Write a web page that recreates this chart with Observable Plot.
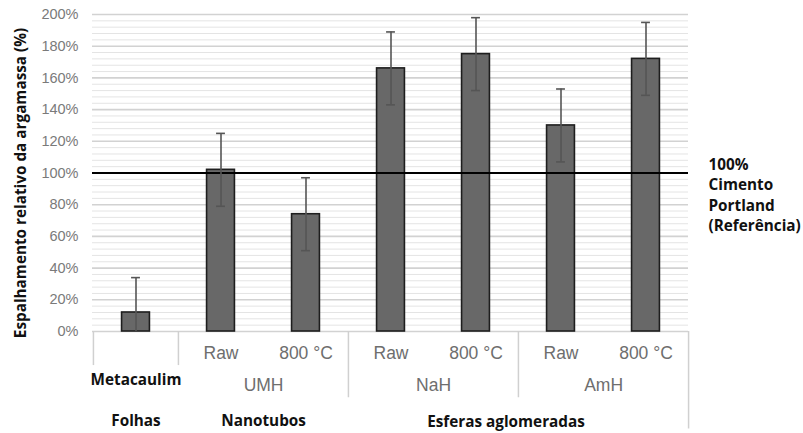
<!DOCTYPE html>
<html>
<head>
<meta charset="utf-8">
<script src="https://cdn.jsdelivr.net/npm/d3@7"></script>
<script src="https://cdn.jsdelivr.net/npm/@observablehq/plot@0.6"></script>
<style>
  html, body { margin: 0; padding: 0; background: #fff; }
  #chart svg { display: block; }
</style>
</head>
<body>
<div id="chart"></div>
<script>
// ---- data ----
const keys = ["Metacaulim", "UMH|Raw", "UMH|800 °C", "NaH|Raw", "NaH|800 °C", "AmH|Raw", "AmH|800 °C"];
const levelLabels = ["", "Raw", "800 °C", "Raw", "800 °C", "Raw", "800 °C"];
const values = [12, 102, 74, 166, 175, 130, 172];
const errors = [22, 23, 23, 23, 23, 23, 23];
const groupLabels = ["UMH", "NaH", "AmH"];
const groupFirstKey = ["UMH|Raw", "NaH|Raw", "AmH|Raw"];
const familyLabels = ["Folhas", "Nanotubos", "Esferas aglomeradas"];
const familyKey = ["Metacaulim", "UMH|Raw", "NaH|800 °C"];
const yTicks = [0, 20, 40, 60, 80, 100, 120, 140, 160, 180, 200];
const referenceValue = 100;
const referenceLabel = "100%\nCimento\nPortland\n(Referência)";
const yTitle = "Espalhamento relativo da argamassa (%)";

const rows = keys.map((k, i) => ({key: k, label: levelLabels[i], v: values[i], lo: Math.max(0, values[i] - errors[i]), hi: values[i] + errors[i]}));
const lowCaps = rows.filter(d => d.lo > 0);
const minor = d3.range(0, 201, 4).filter(v => v % 20 !== 0);

// ---- layout ----
const W = 803, H = 433, mL = 92, mR = 115, mT = 14, mB = 102;
const bw = (W - mL - mR) / keys.length;

const sepShort = [{k: "Metacaulim", side: -1}, {k: "UMH|Raw", side: -1}];
const sepMid = [{k: "NaH|Raw", side: -1}, {k: "AmH|Raw", side: -1}];
const sepLong = [{k: "AmH|800 °C", side: 1}];

const boldFont = "'Open Sans', Lato, sans-serif";
const plainFont = "'Liberation Sans', Arial, sans-serif";
const boldSize = 15.3;

const chart = Plot.plot({
  width: W, height: H,
  marginLeft: mL, marginRight: mR, marginTop: mT, marginBottom: mB,
  style: {fontFamily: plainFont, background: "#fff", overflow: "visible"},
  x: {domain: keys, padding: 0, axis: null},
  y: {domain: [0, 200], label: null, axis: null},
  marks: [
    Plot.ruleY(minor, {stroke: "#e4e4e4", strokeWidth: 1}),
    Plot.ruleY(yTicks, {stroke: "#d2d2d2", strokeWidth: 1.6}),
    Plot.axisY({ticks: yTicks, tickFormat: d => d + "%", tickSize: 0, tickPadding: 14, fontSize: 14.5, fill: "#7a7a7a", label: null}),
    Plot.barY(rows, {x: "key", y: "v", fill: "#686868", stroke: "#1e1e1e", strokeWidth: 1.6, insetLeft: (bw - 28) / 2, insetRight: (bw - 28) / 2}),
    Plot.ruleY([referenceValue], {stroke: "#000", strokeWidth: 2.2}),
    Plot.ruleX(rows, {x: "key", y1: "lo", y2: "hi", stroke: "#555", strokeWidth: 1.6}),
    Plot.tickY(rows, {x: "key", y: "hi", stroke: "#555", strokeWidth: 1.6, insetLeft: (bw - 9) / 2, insetRight: (bw - 9) / 2}),
    Plot.tickY(lowCaps, {x: "key", y: "lo", stroke: "#555", strokeWidth: 1.6, insetLeft: (bw - 9) / 2, insetRight: (bw - 9) / 2}),
    // category separators below the axis
    Plot.ruleX(sepShort, {x: "k", y1: 0, y2: -21.5, dx: -bw / 2, stroke: "#d0d0d0", strokeWidth: 1.5, clip: false}),
    Plot.ruleX(sepMid, {x: "k", y1: 0, y2: -41.8, dx: -bw / 2, stroke: "#d0d0d0", strokeWidth: 1.5, clip: false}),
    Plot.ruleX(sepLong, {x: "k", y1: 0, y2: -61.5, dx: bw / 2, stroke: "#d0d0d0", strokeWidth: 1.5, clip: false}),
    // level labels
    Plot.text(rows, {x: "key", y: 0, text: "label", dy: 22, fontSize: 17.5, fill: "#6e6e6e", fontFamily: plainFont}),
    Plot.text(groupLabels, {x: (d, i) => groupFirstKey[i], y: 0, text: d => d, dx: bw / 2, dy: 54, fontSize: 17.5, fill: "#6e6e6e", fontFamily: plainFont}),
    Plot.text(["Metacaulim"], {x: d => d, y: 0, text: d => d, dy: 49, fontSize: boldSize, fontWeight: "bold", fill: "#111", fontFamily: boldFont}),
    Plot.text(familyLabels.slice(0, 1), {x: () => familyKey[0], y: 0, text: d => d, dy: 90, fontSize: boldSize, fontWeight: "bold", fill: "#111", fontFamily: boldFont}),
    Plot.text(familyLabels.slice(1, 2), {x: () => familyKey[1], y: 0, text: d => d, dx: bw / 2, dy: 90, fontSize: boldSize, fontWeight: "bold", fill: "#111", fontFamily: boldFont}),
    Plot.text(familyLabels.slice(2, 3), {x: () => familyKey[2], y: 0, text: d => d, dx: 30, dy: 91, fontSize: boldSize, fontWeight: "bold", fill: "#111", fontFamily: boldFont}),
    // reference annotation
    Plot.text([referenceLabel], {frameAnchor: "right", y: () => referenceValue, text: d => d, textAnchor: "start", dx: 20, dy: 21, lineHeight: 1.34, fontSize: boldSize, fontWeight: "bold", fill: "#111", fontFamily: boldFont}),
    // y title
    Plot.text([yTitle], {frameAnchor: "left", text: d => d, rotate: -90, textAnchor: "middle", dx: -71, dy: 10, fontSize: boldSize, fontWeight: "bold", fill: "#111", fontFamily: boldFont})
  ]
});
document.getElementById("chart").appendChild(chart);
</script>
</body>
</html>
